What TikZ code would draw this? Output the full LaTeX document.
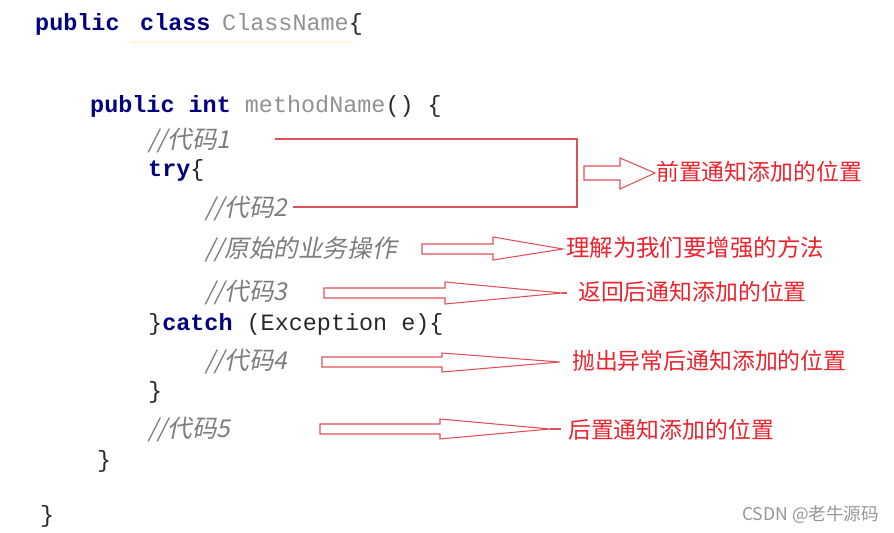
\documentclass[tikz,border=0pt]{standalone}
\usepackage{fontspec}
\setmonofont{Liberation Mono}
\newfontfamily\cjk{Noto Sans CJK SC}
\newfontfamily\cjkslant[FakeSlant=0.2]{Noto Sans CJK SC}
\usetikzlibrary{positioning}

\definecolor{kwblue}{RGB}{0,0,128}
\definecolor{namegrey}{RGB}{145,145,145}
\definecolor{commentgrey}{RGB}{125,125,125}
\definecolor{codedark}{RGB}{40,40,40}
\definecolor{labelred}{RGB}{235,35,45}
\definecolor{arrowred}{RGB}{225,80,90}
\definecolor{marksand}{RGB}{255,244,218}
\definecolor{csdngrey}{RGB}{150,150,150}

\newcommand{\kw}[1]{\textbf{\color{kwblue}#1}}

\begin{document}
\begin{tikzpicture}[
  x=0.03cm, y=-0.03cm,
  % Node styles
  code/.style={font=\ttfamily\fontsize{20}{24}\selectfont, text=codedark, anchor=base west, inner sep=0pt},
  comment/.style={font=\cjkslant\fontsize{21}{24}\selectfont, text=commentgrey, anchor=base west, inner sep=0pt},
  advice/.style={font=\cjk\fontsize{19.5}{24}\selectfont, text=labelred, anchor=west, inner sep=0pt},
  % Line styles
  bracket/.style={draw=arrowred, line width=0.9pt},
  hollow/.style={draw=arrowred, line width=0.9pt, fill=white, line join=miter}
]
\useasboundingbox (0,0) rectangle (894,533);

% ------------------------------------------------------------
% Code listing
% ------------------------------------------------------------
\draw[marksand, line width=1.2pt] (130,42) -- (352,42);
\node[code] (pubcls) at (35,31) {\kw{public}};
\node[code] (clskw)  at (140,31) {\kw{class}};
\node[code] (clsname) at (222,31) {{\color{namegrey}ClassName}\{};

\node[code] (method) at (90,112) {\kw{public} \kw{int} {\color{namegrey}methodName}() \{};

\node[comment] (code1) at (148,148) {//代码1};
\node[code]    (trykw) at (148,176) {\kw{try}\{};
\node[comment] (code2) at (205,216) {//代码2};
\node[comment] (biz)   at (205,257) {//原始的业务操作};
\node[comment] (code3) at (205,300) {//代码3};
\node[code]    (catchkw) at (148,330) {\}\kw{catch} (Exception e)\{};
\node[comment] (code4) at (205,369) {//代码4};
\node[code]    (closetry) at (148,398) {\}};
\node[comment] (code5) at (148,437) {//代码5};
\node[code]    (closemethod) at (97,467) {\}};
\node[code]    (closeclass) at (40,522) {\}};

% ------------------------------------------------------------
% Advice labels
% ------------------------------------------------------------
\node[advice] (before)  at (656,172) {前置通知添加的位置};
\node[advice, font=\cjk\fontsize{20}{24}\selectfont] (target) at (566,248) {理解为我们要增强的方法};
\node[advice] (returns) at (578,292) {返回后通知添加的位置};
\node[advice] (throws)  at (572,361) {抛出异常后通知添加的位置};
\node[advice] (after)   at (568,430) {后置通知添加的位置};

% Bracket around code1 / code2
\draw[bracket] (275,139) -- (577,139) -- (577,207) -- (293,207);

% Hollow arrows (tail, head base, tip)
\draw[hollow] (584,166) -- (620,166) -- (620,158) -- (655,173)
  -- (620,189) -- (620,180) -- (584,180) -- cycle;
\draw[hollow] (422,244) -- (493,244) -- (493,237) -- (563,249)
  -- (493,260) -- (493,254) -- (422,254) -- cycle;
\draw[hollow] (324,288) -- (445,288) -- (445,282) -- (562,293)
  -- (445,304) -- (445,298) -- (324,298) -- cycle;
\draw[bracket] (562,293) -- (567,293);
\draw[hollow] (322,357) -- (442,357) -- (442,353) -- (560,362)
  -- (442,372) -- (442,367) -- (322,367) -- cycle;
\draw[hollow] (320,424) -- (440,424) -- (440,419) -- (550,429)
  -- (440,439) -- (440,434) -- (320,434) -- cycle;
\draw[bracket] (550,429) -- (561,429);

% Watermark
\node[font=\cjk\fontsize{15}{18}\selectfont, text=csdngrey, anchor=west, inner sep=0pt]
  (mark) at (742,515) {CSDN @老牛源码};
\end{tikzpicture}
\end{document}
